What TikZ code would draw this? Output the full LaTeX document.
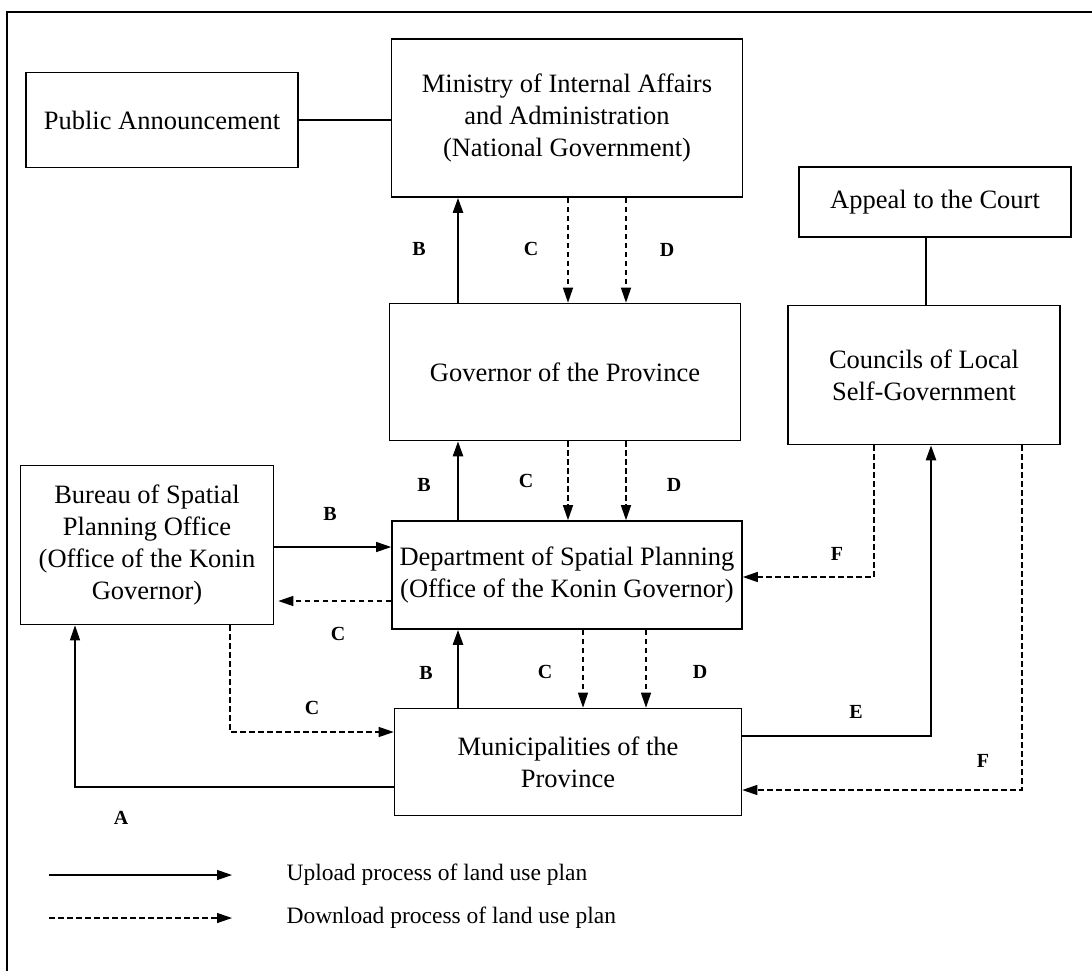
\documentclass[tikz,border=0pt]{standalone}
\usepackage{fontspec}
\setmainfont{Liberation Serif}
\usetikzlibrary{arrows.meta}
\tikzset{
  box/.style={draw, line width=1.6pt, align=center, inner sep=0pt, font=\fontsize{26.5}{32}\selectfont},
  up/.style={->, line width=2.4pt},
  upthin/.style={->, line width=1.2pt},
  down/.style={->, line width=1.3pt, dash pattern=on 5.5pt off 3.5pt},
  lbl/.style={font=\fontsize{20}{22}\selectfont\bfseries},
  legend/.style={anchor=west, font=\fontsize{23.5}{26}\selectfont}
}
\begin{document}
\begin{tikzpicture}[x=1pt, y=-1pt, >={Triangle[length=15pt,width=10pt]}]
\useasboundingbox (0,0) rectangle (1092,970);
\draw[line width=2pt] (7,1000) |- (1100,12);
\node[box, minimum width=272pt, minimum height=95pt] (pub) at (162,120) {Public Announcement};
\node[box, minimum width=351pt, minimum height=158pt] (min) at (567,118) {Ministry of Internal Affairs\\and Administration\\(National Government)};
\node[box, minimum width=272pt, minimum height=70pt] (app) at (935,202) {Appeal to the Court};
\node[box, minimum width=351pt, minimum height=137pt] (gov) at (565,372) {Governor of the Province};
\node[box, minimum width=272pt, minimum height=139pt] (coun) at (924,375) {Councils of Local\\Self-Government};
\node[box, minimum width=253pt, minimum height=159pt] (bur) at (147,545) {Bureau of Spatial\\Planning Office\\(Office of the Konin\\Governor)};
\node[box, minimum width=350pt, minimum height=108pt] (dep) at (567,575) {Department of Spatial Planning\\(Office of the Konin Governor)};
\node[box, minimum width=347pt, minimum height=107pt] (mun) at (568,762) {Municipalities of the\\Province};
\coordinate (cA) at (75,0);
\coordinate (cBC) at (230,0);
\coordinate (cB) at (458,0);
\coordinate (cC) at (568,0);
\coordinate (cD) at (626,0);
\coordinate (cC2) at (583,0);
\coordinate (cD2) at (646,0);
\coordinate (cF1) at (874,0);
\coordinate (cApp) at (926,0);
\coordinate (cE) at (931,0);
\coordinate (cF2) at (1022,0);
\coordinate (rBB) at (0,547);
\coordinate (rBC) at (0,601);
\coordinate (rF1) at (0,577);
\coordinate (rC) at (0,732);
\coordinate (rE) at (0,736);
\coordinate (rA) at (0,787);
\coordinate (rF2) at (0,790);
\draw[line width=1.2pt] (pub.east) -- (pub.east -| min.west);
\draw[line width=2.4pt] (app.south -| cApp) -- (coun.north -| cApp);
\draw[up] (gov.north -| cB) -- (min.south -| cB);
\draw[down] (min.south -| cC) -- (gov.north -| cC);
\draw[down] (min.south -| cD) -- (gov.north -| cD);
\draw[up] (dep.north -| cB) -- (gov.south -| cB);
\draw[down] (gov.south -| cC) -- (dep.north -| cC);
\draw[down] (gov.south -| cD) -- (dep.north -| cD);
\draw[up] (mun.north -| cB) -- (dep.south -| cB);
\draw[down] (dep.south -| cC2) -- (mun.north -| cC2);
\draw[down] (dep.south -| cD2) -- (mun.north -| cD2);
\draw[upthin] (bur.east |- rBB) -- (dep.west |- rBB);
\draw[down, shorten >=4pt] (dep.west |- rBC) -- (bur.east |- rBC);
\draw[down] (bur.south -| cBC) |- (mun.west |- rC);
\draw[upthin] (mun.west |- rA) -| (bur.south -| cA);
\draw[down] (coun.south -| cF1) |- (dep.east |- rF1);
\draw[up] (mun.east |- rE) -| (coun.south -| cE);
\draw[down] (coun.south -| cF2) |- (mun.east |- rF2);
\node[lbl] (lB1) at (419,249) {B};
\node[lbl] (lC1) at (531,249) {C};
\node[lbl] (lD1) at (667,250) {D};
\node[lbl] (lB2) at (424,485) {B};
\node[lbl] (lC2) at (526,481) {C};
\node[lbl] (lD2) at (674,485) {D};
\node[lbl] (lBb) at (330,514) {B};
\node[lbl] (lCb) at (338,634) {C};
\node[lbl] (lB3) at (426,673) {B};
\node[lbl] (lC3) at (545,672) {C};
\node[lbl] (lD3) at (700,672) {D};
\node[lbl] (lCm) at (312,708) {C};
\node[lbl] (lA) at (121,818) {A};
\node[lbl] (lF1) at (837,554) {F};
\node[lbl] (lE) at (856,712) {E};
\node[lbl] (lF2) at (983,761) {F};
\coordinate (u0) at (49,875);
\coordinate (u1) at (232,875);
\coordinate (d0) at (49,918);
\coordinate (d1) at (232,918);
\draw[upthin] (u0) -- (u1);
\draw[down] (d0) -- (d1);
\node[legend] (lup) at (283,875) {Upload process of land use plan};
\node[legend] (ldown) at (283,918) {Download process of land use plan};
\end{tikzpicture}
\end{document}
